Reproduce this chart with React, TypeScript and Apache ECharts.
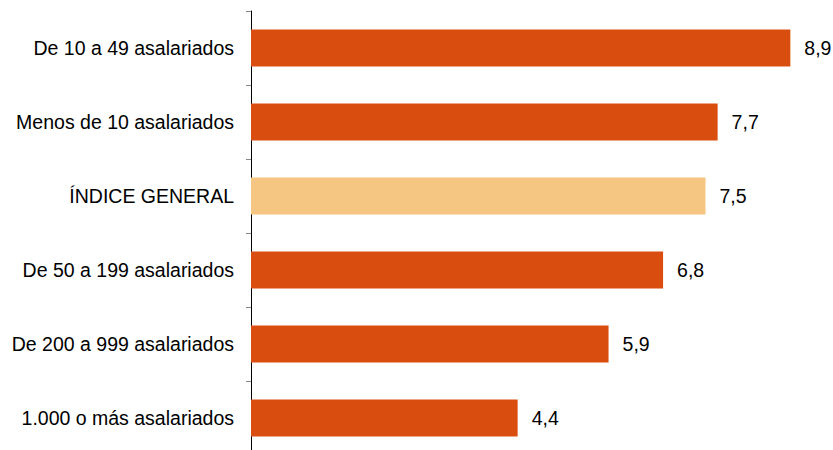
import React, { useEffect, useRef } from "react";
import * as echarts from "echarts";

const categories = [
  "De 10 a 49 asalariados",
  "Menos de 10 asalariados",
  "ÍNDICE GENERAL",
  "De 50 a 199 asalariados",
  "De 200 a 999 asalariados",
  "1.000 o más asalariados",
];
const values = [8.9, 7.7, 7.5, 6.8, 5.9, 4.4];
const highlight = "ÍNDICE GENERAL";

const MAIN = "#D94D0F";
const LIGHT = "#F5C582";
const FONT = "'Liberation Sans', Arial, sans-serif";

export default function App() {
  const ref = useRef<HTMLDivElement>(null);
  useEffect(() => {
    if (!ref.current) return;
    const chart = echarts.init(ref.current, undefined, { renderer: "svg" });
    chart.setOption({
      animation: false,
      grid: { left: 251, top: 11, width: 545.4, height: 444 },
      xAxis: { type: "value", min: 0, max: 9, show: false },
      yAxis: {
        type: "category",
        inverse: true,
        data: categories,
        axisLine: { show: true, lineStyle: { color: "#000", width: 1 } },
        axisTick: { show: true, length: 5, lineStyle: { color: "#888" } },
        axisLabel: { color: "#000", fontSize: 19.5, fontFamily: FONT, margin: 17 },
        splitLine: { show: false },
      },
      series: [
        {
          type: "bar",
          barWidth: 37,
          data: values.map((v, i) => ({
            value: v,
            itemStyle: { color: categories[i] === highlight ? LIGHT : MAIN },
          })),
          label: {
            show: true,
            position: "right",
            distance: 14,
            color: "#000",
            fontSize: 19.5,
            fontFamily: FONT,
            formatter: (p: any) => String(p.value).replace(".", ","),
          },
        },
      ],
    });
    return () => chart.dispose();
  }, []);
  return (
    <div
      ref={ref}
      style={{ position: "fixed", left: 0, top: 0, width: 833, height: 460, background: "#fff" }}
    />
  );
}
